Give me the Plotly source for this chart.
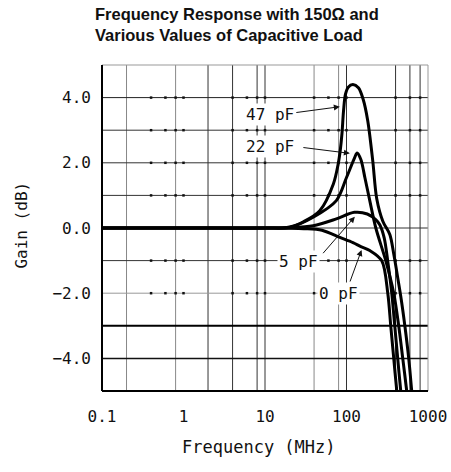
import plotly.graph_objects as go
import numpy as np

# ---- data ----
freq_0pF = [0.1, 1, 10, 30, 50, 83, 120, 150, 193, 270, 321, 349, 380, 414, 440]
gain_0pF = [0, 0, 0, -0.02, -0.07, -0.29, -0.45, -0.57, -0.69, -1.0, -2.0, -3.0, -4.0, -5.0, -5.6]

freq_5pF = [0.1, 1, 10, 20, 39, 75, 125, 180, 230, 256, 290, 320, 359, 391, 425, 463, 490]
gain_5pF = [0, 0, 0, 0.01, 0.07, 0.28, 0.48, 0.43, 0.25, 0.1, -0.3, -1.0, -2.0, -3.0, -4.0, -5.0, -5.6]

freq_22pF = [0.1, 1, 10, 20, 39, 75, 100, 126, 135, 150, 168, 193, 229, 303, 380, 437, 490, 548, 580]
gain_22pF = [0, 0, 0, 0.02, 0.33, 0.84, 1.55, 2.16, 2.3, 2.1, 1.55, 0.84, 0.0, -1.0, -2.0, -3.0, -4.0, -5.0, -5.6]

freq_47pF = [0.1, 1, 10, 20, 30, 47, 69, 79, 84, 88, 92, 97, 105, 120, 140, 160, 182, 210, 235,
             280, 340, 380, 430, 470, 520, 580, 631, 660]
gain_47pF = [0, 0, 0, 0.03, 0.2, 0.53, 1.35, 1.96, 2.4, 2.9, 3.6, 4.1, 4.32, 4.4, 4.3, 3.95, 3.3, 2.06, 0.9,
             0.2, -0.2, -0.8, -1.6, -2.2, -3.0, -4.0, -5.0, -5.6]

series = [("0 pF", freq_0pF, gain_0pF), ("5 pF", freq_5pF, gain_5pF),
          ("22 pF", freq_22pF, gain_22pF), ("47 pF", freq_47pF, gain_47pF)]

x_tickvals = [0.1, 1, 10, 100, 1000]
x_ticktext = ["0.1", "1", "10", "100", "1000"]
y_tickvals = [-4, -2, 0, 2, 4]
y_ticktext = ["\u22124.0", "\u22122.0", "0.0", "2.0", "4.0"]

# grid lines as drawn in the reference
vgrid_freqs = [0.2, 0.8, 2, 4, 8, 10, 40, 80, 100, 400, 600, 800]
vgrid_colors = ["#888", "#888", "#333", "#333", "#333", "#333", "#888", "#888", "#333", "#333", "#333", "#333"]
hgrid_vals = [4, 3, 2, 1, 0, -1, -2, -3, -4]
hgrid_colors = ["#222", "#333", "#333", "#333", "#333", "#333", "#999", "#000", "#111"]
hgrid_widths = [1, 1, 1, 1, 1, 1, 1, 2, 1.5]
dot_freqs = [0.4, 0.6, 0.8, 1, 4, 6, 8, 10, 40, 60, 80, 100, 400, 600, 800]
dot_levels = [4, 3, 2, 1, -1, -2]

FONT = "DejaVu Sans Mono"

fig = go.Figure()

# small dots on the grid lines
dx, dy = [], []
for lv in dot_levels:
    for f in dot_freqs:
        dx.append(f)
        dy.append(lv)
fig.add_trace(go.Scatter(x=dx, y=dy, mode="markers",
                         marker=dict(symbol="square", size=2.5, color="#111"),
                         hoverinfo="skip", showlegend=False))

for name, f, g in series:
    fig.add_trace(go.Scatter(x=f, y=g, mode="lines", name=name,
                             line=dict(color="black", width=3, shape="spline", smoothing=0.9),
                             showlegend=False))

shapes = []
for f, c in zip(vgrid_freqs, vgrid_colors):
    shapes.append(dict(type="line", xref="x", yref="paper", x0=f, x1=f, y0=0, y1=1,
                       line=dict(color=c, width=1), layer="below"))
for v, c, w in zip(hgrid_vals, hgrid_colors, hgrid_widths):
    shapes.append(dict(type="line", xref="paper", yref="y", x0=0, x1=1, y0=v, y1=v,
                       line=dict(color=c, width=w), layer="below"))
# frame
shapes.append(dict(type="line", xref="paper", yref="paper", x0=0, x1=1, y0=1, y1=1,
                   line=dict(color="#999", width=1)))
shapes.append(dict(type="line", xref="paper", yref="paper", x0=1, x1=1, y0=0, y1=1,
                   line=dict(color="#999", width=1)))
shapes.append(dict(type="line", xref="paper", yref="paper", x0=0, x1=0, y0=0, y1=1,
                   line=dict(color="#000", width=2)))
shapes.append(dict(type="line", xref="paper", yref="paper", x0=0, x1=1, y0=0, y1=0,
                   line=dict(color="#000", width=2)))

annotations = []
# curve labels (text) and arrows: (label, text_x_freq, text_y, head_freq, head_y, ax, ay)
labels = [
    ("47 pF", 11.5, 3.47, 82.8, 3.72, -45, 6),
    ("22 pF", 11.5, 2.515, 110, 2.29, -48, -6),
    ("5 pF", 26.1, -1.04, 126.5, 0.347, -33, 38),
    ("0 pF", 80.5, -2.0, 152.8, -0.675, -12, 33),
]
for txt, tx, ty, hx, hy, ax, ay in labels:
    annotations.append(dict(x=np.log10(tx), y=ty, xref="x", yref="y", text=txt, showarrow=False,
                            font=dict(family=FONT, size=16, color="#111"), bgcolor="white",
                            borderpad=1))
    annotations.append(dict(x=np.log10(hx), y=hy, xref="x", yref="y", text="", showarrow=True,
                            ax=ax, ay=ay, arrowhead=2, arrowsize=1.2, arrowwidth=1, arrowcolor="#111"))

annotations.append(dict(xref="paper", yref="paper", x=-0.027, y=1.19, xanchor="left", yanchor="top",
                        align="left", showarrow=False,
                        text="<b>Frequency Response with 150\u03a9 and<br>Various Values of Capacitive Load</b>",
                        font=dict(family="Liberation Sans Narrow, Arial Narrow, Liberation Sans", size=16.5, color="#111")))
annotations.append(dict(xref="paper", yref="paper", x=0.4816, y=-0.172, xanchor="center", yanchor="middle",
                        showarrow=False, text="Frequency (MHz)",
                        font=dict(family=FONT, size=17, color="#111")))
annotations.append(dict(xref="paper", yref="paper", x=-0.247, y=0.509, xanchor="center", yanchor="middle",
                        showarrow=False, text="Gain (dB)", textangle=-90,
                        font=dict(family=FONT, size=16, color="#111")))

fig.update_layout(
    width=451, height=472,
    margin=dict(l=102, r=23, t=65, b=81),
    paper_bgcolor="white", plot_bgcolor="white",
    shapes=shapes, annotations=annotations,
    xaxis=dict(type="log", range=[-1, 3], showgrid=False, zeroline=False, showline=False,
               automargin=False,
               tickvals=x_tickvals, ticktext=x_ticktext, ticks="", ticklabelstandoff=14,
               tickfont=dict(family=FONT, size=16, color="#111")),
    yaxis=dict(range=[-5, 5], showgrid=False, zeroline=False, showline=False,
               automargin=False,
               tickvals=y_tickvals, ticktext=y_ticktext, ticks="", ticklabelstandoff=10,
               tickfont=dict(family=FONT, size=16, color="#111")),
)

fig.write_html("out.html")
